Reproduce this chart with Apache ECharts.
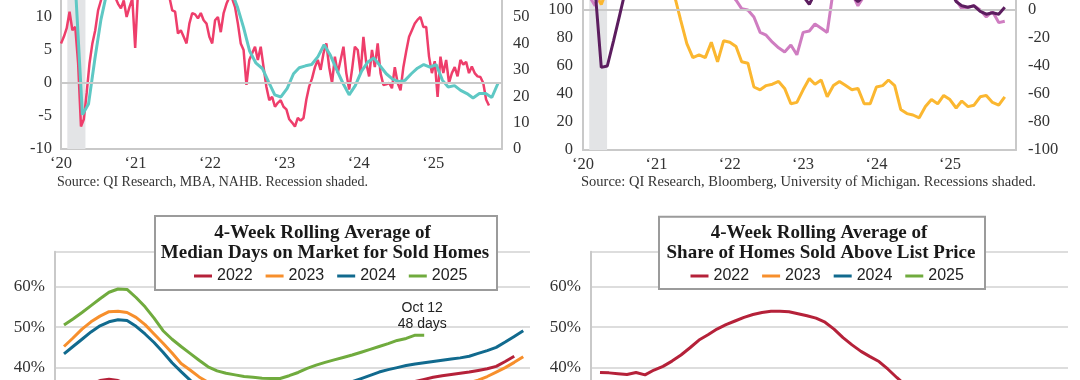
<!DOCTYPE html>
<html><head><meta charset="utf-8">
<script src="https://cdn.jsdelivr.net/npm/echarts@6.0.0/dist/echarts.min.js"></script>
<style>
html,body{margin:0;padding:0;background:#fff;}
#wrap{position:relative;width:1080px;height:380px;overflow:hidden;background:#fff;}
.c{position:absolute;}
</style></head><body>
<div id="wrap">
<div id="c1" class="c" style="left:0;top:-100px;width:540px;height:300px"></div>
<div id="c2" class="c" style="left:540px;top:-150px;width:540px;height:350px"></div>
<div id="c3" class="c" style="left:0;top:190px;width:540px;height:360px"></div>
<div id="c4" class="c" style="left:540px;top:190px;width:540px;height:360px"></div>
</div>
<script>
// ---------- DATA ----------
const yearTicks = [2020, 2021, 2022, 2023, 2024, 2025];
const yearLabels = ['\u201820', '\u201821', '\u201822', '\u201823', '\u201824', '\u201825'];

// Top-left: bi-weekly series (left axis) starting 2020-01-01, monthly series (right axis) mid-month
const purchaseApps = [6,7,8.3,10.8,8,8.5,3,-6.6,-5.5,-1.5,
 3,6,8,11,12.5,14,15,13,14,13,
 12,11.3,12.5,10,11.5,12.8,5.3,14,15,16,
 17,18,16,15,17,16,15,14,13,11,
 10.8,7.5,8,7,6,9,10.6,10.4,9.8,10.6,
 9.5,9,7,6,9.5,10,7.7,10.6,12,13,
 12.8,11.5,9,6,5,-0.3,3.5,4.5,5.5,3.5,
 5.5,2.4,-0.6,-2.6,-2.1,-3.6,-3,-2.6,-3.6,-4,
 -5.5,-6,-6.6,-5.3,-5.7,-5.3,-2.5,-0.5,0.7,2.4,
 3.5,2,4.5,6,2.4,0,4,1.5,3.5,5.5,
 1.5,-1,2,5.5,5,1.5,7,3,1,5,
 2.4,6,1.5,-0.3,-0.2,0,-0.8,2.4,0,-1.1,
 2.4,4.8,7,8,9,9.6,10,8.5,8.5,4,
 1.5,3.3,-2.1,4,1.5,3.5,0,1.5,2.4,1,
 3.5,2.8,3.2,1.5,2.5,1.5,1,0.9,0,-2.5,
 -3.4];
const builderIdx = [66,65,57,13,17,34,49,60,65,67,
 71,68,66,67,65,66,64,64,63,59,
 60,63,66,67,66,64,62,60,54,46,
 37,32.5,30.5,25.5,20.5,19.7,23,28.5,30.8,31.5,
 32,35,39.5,35.5,30,25,20.5,24,29.5,33,
 34.5,31.5,28.5,26.5,25.5,26,28.5,30.6,32,31,
 32,26,23.5,24,22.2,21,19.3,21,21,19.5,
 25];

// Top-right: monthly from Jan 2020
const buyConditions = [125,120,112,104,115,125,130,135,135,138,
 135,130,128,125,118,110,93,76,66,68,
 66,77,63,78,77,74,63,62,45,43,
 46,47,49,44,33,34,43,51,47,50,
 38,46,49,46,43,44,33,33,45,46,
 50,46,29,26,25,23,31,36,33,39,
 36,30,35,31,32,38,39,34,32,38];
const sentimentIdx = [125,122,115,59,60,78,96,115,130,135,
 140,138,135,138,140,142,138,135,130,128,
 125,126,128,130,125,122,120,118,116,115,
 113,112,114,113,112,110,110,104,112,115,
 118,116,113,112,110,106,110,112,115,118,
 120,117,115,113,115,117,116,114,115,118,
 115,106,103,102,103,99,97,98,97,102];
const priceExpect = [12,10,3,15,25,30,35,40,42,40,
 38,35,30,28,25,22,20,15,18,14,
 12,16,18,15,12,7,1,0,-5,-16,
 -18,-23,-27,-30,-25,-32,-16,-15,-10,-13,
 -16,15,20,15,12,3,10,15,20,22,
 18,20,25,22,18,20,22,18,20,16,
 15,7,1,2,3,0,-5,-1,-9,-8];

// Bottom-left: weekly, week 1..n
const years = ['2022', '2023', '2024', '2025'];
const dom2022 = [32,33.5,35,36,36.8,37.1,36.8,36,35,34,
 33,32,31,30,29.5,29,28.7,28.5,28.5,28.6,
 28.8,29,29.3,29.6,30,30.4,30.8,31.2,31.6,32,
 32.4,32.8,33.2,33.6,34,34.4,34.8,35.2,35.7,36.6,
 37.1,37.6,38,38.3,38.6,38.9,39.3,39.7,40.3,41.5,
 42.8];
const dom2023 = [45.2,47.3,49.5,51.3,52.7,53.8,53.9,53.6,52.4,50.6,
 48.3,46,43.6,41,39.4,37.7,36.4,35.2,34.3,33.6,
 33,32.6,32.3,32.1,32,32,32.1,32.2,32.4,32.6,
 32.8,33,33.2,33.4,33.6,33.8,34,34.2,34.4,34.6,
 34.8,35,35.3,35.6,35.9,36.3,36.9,37.8,38.9,40,
 41.3,42.7];
const dom2024 = [43.4,45.2,47,48.8,50.3,51.3,51.8,51.6,50.2,48.3,
 46.2,43.8,41.2,39,36.9,35.3,34,33.2,32.6,32.2,
 32,31.9,31.9,32,32.3,32.7,33.1,33.6,34.1,34.7,
 35.3,35.9,36.5,37.3,38.1,38.9,39.5,40,40.5,40.9,
 41.2,41.5,41.8,42.1,42.4,42.8,43.5,44.2,45,46.3,
 47.7,49.1];
const dom2025 = [50.5,52,53.6,55.3,57,58.6,59.4,59.3,57.3,55,
 52.2,49.1,47,45.2,43.5,41.8,40.2,39.2,38.6,38.2,
 37.8,37.6,37.4,37.3,37.3,38,38.8,39.8,40.6,41.3,
 41.9,42.5,43.1,43.8,44.5,45.2,45.9,46.7,47.2,48,
 48];

// Bottom-right: weekly
const above2022 = [38.8,38.7,38.5,38.3,38.8,38.2,39.4,40.3,41.6,43.1,
 44.9,46.8,48.1,49.5,50.6,51.5,52.4,53.1,53.6,53.9,
 53.9,53.8,53.3,52.8,52.2,51.2,49.5,47.4,45.6,44.0,
 42.7,41.5,39.6,37.5,35.5,34.2,33.2,32.0,30.8,29.7,
 28.7,27.8,27.0,26.2,25.5,24.9,24.3,23.7,23.2,22.7,
 22.2,21.8];
const above2023 = [20,20.5,21,22,23.5,25,26.5,28,29.5,31,
 32,33,33.8,34.3,34.6,34.8,34.8,34.6,34.2,33.6,
 33,32.2,31.3,30.4,29.5,28.6,27.7,26.8,25.9,25,
 24.2,23.5,22.8,22.2,21.6,21,20.5,20,19.6,19.2,
 18.8,18.4,18,17.7,17.4,17.1,16.8,16.5,16.3,16.1,
 15.9,15.7];
const above2024 = [15,15.5,16.5,18,19.5,21,22.5,24,25.5,27,
 28,29,29.8,30.4,30.8,31,31,30.7,30.2,29.6,
 28.9,28.1,27.3,26.5,25.7,24.9,24.1,23.3,22.6,21.9,
 21.2,20.6,20,19.5,19,18.5,18.1,17.7,17.3,17,
 16.7,16.4,16.1,15.8,15.6,15.4,15.2,15,14.8,14.7,
 14.6,14.5];
const above2025 = [14,14.5,15.5,17,18.5,20,21.5,23,24.3,25.5,
 26.5,27.4,28.1,28.6,29,29.2,29.2,29,28.6,28,
 27.3,26.5,25.7,24.9,24.1,23.3,22.6,21.9,21.2,20.6,
 20,19.5,19,18.6,18.2,17.8,17.5,17.2,16.9,16.6,
 16.4];

// ---------- HELPERS ----------
function t(y, m, d) { return new Date(y, m, d).getTime(); }
function stepDays(y, m, d, step, n) { const o = []; for (let i = 0; i < n; i++) o.push(t(y, m, d + i * step)); return o; }
function stepMonths(y, m, d, n) { const o = []; for (let i = 0; i < n; i++) o.push(t(y, m + i, d)); return o; }
function pairs(xs, ys) { return ys.map((v, i) => [xs[i], v]); }
function weekPairs(ys) { return ys.map((v, i) => [i + 1, v]); }

const SERIF = '"Liberation Serif", "DejaVu Serif", serif';
const SANS = '"Liberation Sans", Arial, sans-serif';
const AXIS_GRAY = '#c9c9c9';
const yearTickValues = yearTicks.map(y => t(y, 0, 1));
const yearFmt = v => { const i = yearTickValues.indexOf(v); return i >= 0 ? yearLabels[i] : ''; };

function dateXAxis(minV, maxV) {
  return {
    type: 'value', min: minV, max: maxV,
    axisLine: { show: true, onZero: false, lineStyle: { color: AXIS_GRAY, width: 2 } },
    axisTick: { show: false }, splitLine: { show: false },
    axisLabel: { customValues: yearTickValues, formatter: yearFmt, fontSize: 16.5, fontFamily: SERIF, color: '#333', margin: 6 }
  };
}
function valAxis(min, max, interval, pos, margin) {
  return {
    type: 'value', min: min, max: max, interval: interval, position: pos,
    axisLine: { show: true, lineStyle: { color: AXIS_GRAY, width: 2 } },
    axisTick: { show: false }, splitLine: { show: false },
    axisLabel: { fontSize: 16.5, fontFamily: SERIF, color: '#333', margin: margin }
  };
}
function helperSeries(zeroVal, shadeFrom, shadeTo) {
  return {
    type: 'line', data: [], z: 1, silent: true,
    markArea: { silent: true, itemStyle: { color: '#e3e4e6' }, data: [[{ xAxis: shadeFrom }, { xAxis: shadeTo }]] },
    markLine: { silent: true, symbol: 'none', label: { show: false }, lineStyle: { color: AXIS_GRAY, width: 2, type: 'solid' }, data: [{ yAxis: zeroVal }] }
  };
}
function lineS(name, data, color, width, yIdx, z) {
  return { name: name, type: 'line', data: data, yAxisIndex: yIdx || 0, showSymbol: false, symbol: 'none', z: z || 3,
    itemStyle: { color: color }, lineStyle: { color: color, width: width }, animation: false };
}

// ---------- TOP-LEFT ----------
const c1 = echarts.init(document.getElementById('c1'));
c1.setOption({
  animation: false,
  grid: { left: 61, right: 38, top: 51, bottom: 51 },
  title: { text: 'Source: QI Research, MBA, NAHB. Recession shaded.', left: 57, top: 275, padding: 0,
    textStyle: { fontSize: 14, fontWeight: 'normal', fontFamily: SERIF, color: '#333' } },
  xAxis: dateXAxis(t(2020, 0, 1), t(2025, 11, 4)),
  yAxis: [valAxis(-10, 20, 5, 'left', 9), valAxis(0, 75, 10, 'right', 11)],
  series: [
    helperSeries(0, t(2020, 1, 1), t(2020, 3, 30)),
    lineS('Purchase applications', pairs(stepDays(2020, 0, 1, 14, purchaseApps.length), purchaseApps), '#ee3e6b', 2.5, 0, 3),
    lineS('Builder index', pairs(stepMonths(2020, 0, 15, builderIdx.length), builderIdx), '#5ec8c4', 3, 1, 4)
  ]
});

// ---------- TOP-RIGHT ----------
const c2 = echarts.init(document.getElementById('c2'));
const monthsTR = stepMonths(2020, 0, 1, buyConditions.length);
c2.setOption({
  animation: false,
  grid: { left: 43, right: 64, top: 48, bottom: 50 },
  title: { text: 'Source: QI Research, Bloomberg, University of Michigan. Recessions shaded.', left: 41, top: 325, padding: 0,
    textStyle: { fontSize: 14.5, fontWeight: 'normal', fontFamily: SERIF, color: '#333' } },
  xAxis: dateXAxis(t(2020, 0, 1), t(2025, 10, 26)),
  yAxis: [valAxis(0, 180, 20, 'left', 10), valAxis(-100, 80, 20, 'right', 12)],
  series: [
    helperSeries(100, t(2020, 1, 1), t(2020, 3, 30)),
    lineS('Buying conditions', pairs(monthsTR, buyConditions), '#fbb730', 3, 0, 3),
    lineS('Price expectations', pairs(monthsTR, priceExpect), '#cf7dc1', 3, 1, 4),
    lineS('Sentiment', pairs(monthsTR, sentimentIdx), '#5c1d5f', 3, 0, 5)
  ]
});

// ---------- BOTTOM PANELS ----------
const yearColors = ['#b52139', '#f78f2c', '#116a8e', '#70ab3e'];
function bottomOption(cfg) {
  return {
    animation: false,
    grid: { left: cfg.gridLeft, right: cfg.gridRight, top: 61.7, bottom: 20.3 },
    xAxis: { type: 'value', min: 0, max: cfg.xMax, show: false },
    yAxis: {
      type: 'value', min: 0, max: 68.6, interval: 10,
      axisLine: { show: true, lineStyle: { color: AXIS_GRAY, width: 2 } },
      axisTick: { show: false },
      splitLine: { show: true, lineStyle: { color: '#d2d2d2', width: 1.5 } },
      axisLabel: { formatter: '{value}%', fontSize: 17, fontFamily: SERIF, color: '#333', margin: 10, showMaxLabel: false }
    },
    legend: { data: years, left: cfg.legendLeft, top: 78, padding: 0, icon: 'rect', itemWidth: 18, itemHeight: 3, itemGap: 13,
      selectedMode: false, z: 10, textStyle: { fontSize: 16, fontFamily: SANS, color: '#222' } },
    graphic: [
      { type: 'rect', z: 5, shape: { x: cfg.box[0], y: cfg.box[1], width: cfg.box[2], height: cfg.box[3] },
        style: { fill: '#fff', stroke: '#9b9b9b', lineWidth: 2 } },
      { type: 'text', z: 6, x: cfg.t1[0], y: cfg.t1[1], style: { text: cfg.title1, font: 'bold 19px ' + SERIF, fill: '#1a1a1a', align: 'center', verticalAlign: 'middle' } },
      { type: 'text', z: 6, x: cfg.t2[0], y: cfg.t2[1], style: { text: cfg.title2, font: 'bold 19px ' + SERIF, fill: '#1a1a1a', align: 'center', verticalAlign: 'middle' } }
    ],
    series: cfg.data.map((d, i) => {
      const s = lineS(years[i], weekPairs(d), yearColors[i], 3, 0, 3 + i);
      if (cfg.note && i === 3) {
        s.markPoint = { symbol: 'circle', symbolSize: 1, itemStyle: { color: 'rgba(0,0,0,0)' }, silent: true,
          label: { show: true, position: 'inside', offset: [-2, -19], formatter: cfg.note, fontSize: 14, lineHeight: 16, fontFamily: SANS, color: '#222' },
          data: [{ coord: [d.length, d[d.length - 1]] }] };
      }
      return s;
    })
  };
}

const c3 = echarts.init(document.getElementById('c3'));
c3.setOption(bottomOption({
  gridLeft: 55, gridRight: 10, xMax: 52.75, legendLeft: 194,
  box: [155, 26, 342, 74], t1: [322.6, 43.5], t2: [325, 63.5],
  title1: '4-Week Rolling Average of', title2: 'Median Days on Market for Sold Homes',
  data: [dom2022, dom2023, dom2024, dom2025], note: 'Oct 12\n48 days'
}));

const c4 = echarts.init(document.getElementById('c4'));
c4.setOption(bottomOption({
  gridLeft: 51, gridRight: 12, xMax: 53, legendLeft: 150.5,
  box: [119, 26.7, 326, 72.3], t1: [279, 43.5], t2: [281, 63.2],
  title1: '4-Week Rolling Average of', title2: 'Share of Homes Sold Above List Price',
  data: [above2022, above2023, above2024, above2025], note: null
}));
</script>
</body></html>
